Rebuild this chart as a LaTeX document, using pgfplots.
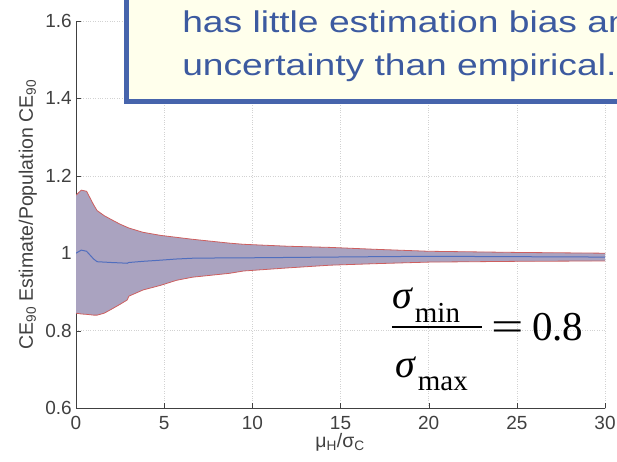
\documentclass[border=0pt]{standalone}
\usepackage{pgfplots}
\pgfplotsset{compat=1.18}
\usepackage{pgfplotstable}
\usepgfplotslibrary{fillbetween}
\usepackage{fontspec}
\setmainfont{Liberation Sans}
\newfontfamily\serif{Liberation Serif}
\definecolor{bandfill}{RGB}{170,163,192}
\definecolor{edgered}{RGB}{205,95,95}
\definecolor{medblue}{RGB}{80,110,190}
\definecolor{boxblue}{RGB}{70,100,172}
\definecolor{boxfill}{RGB}{255,255,236}
\definecolor{txtblue}{RGB}{60,90,160}
\definecolor{axgray}{RGB}{64,64,64}
\pgfplotstableread{
x lo med hi
0 0.845 1.000 1.150
0.3 0.843 1.008 1.163
0.6 0.842 1.005 1.160
1.0 0.840 0.985 1.125
1.2 0.840 0.978 1.110
1.6 0.845 0.977 1.097
2.0 0.855 0.976 1.087
2.5 0.868 0.975 1.075
2.9 0.879 0.974 1.067
3.0 0.889 0.976 1.065
3.8 0.905 0.979 1.054
4.8 0.917 0.982 1.046
5.7 0.930 0.985 1.041
6.6 0.938 0.987 1.036
8.7 0.948 0.988 1.026
9.5 0.954 0.988 1.023
12 0.962 0.989 1.018
14.4 0.969 0.990 1.015
17 0.973 0.991 1.010
20 0.977 0.992 1.005
25 0.979 0.991 1.002
30 0.980 0.990 1.000
}\band
\begin{document}
\begin{tikzpicture}
\begin{axis}[
  scale only axis, width=529pt, height=387pt,
  xmin=0, xmax=30, ymin=0.6, ymax=1.6,
  axis lines=left, axis line style={axgray, -},
  xtick={0,5,10,15,20,25,30},
  ytick={0.6,0.8,1,1.2,1.4,1.6},
  tick align=inside, major tick length=5pt, tick style={axgray},
  grid=major, major grid style={dotted, gray!35, line width=0.6pt},
  /pgf/number format/assume math mode=true,
  tick label style={font=\fontsize{19}{19}\selectfont, text=axgray},
  xticklabel style={inner sep=0pt, yshift=-8pt},
  yticklabel style={inner sep=0pt, xshift=-4pt},
  xlabel={μ\textsubscript{H}/σ\textsubscript{C}},
  ylabel={CE\textsubscript{90} Estimate/Population CE\textsubscript{90}},
  label style={font=\fontsize{19.5}{19.5}\selectfont, text=axgray, inner sep=0pt},
  xlabel style={at={(rel axis cs:0.499,-0.101)}, anchor=base},
  ylabel style={at={(rel axis cs:-0.0737,0.5)}, anchor=south},
]
\addplot[draw=none, name path=hi, forget plot] table[x=x,y=hi]{\band};
\addplot[draw=none, name path=lo, forget plot] table[x=x,y=lo]{\band};
\addplot[fill=bandfill, draw=none, forget plot] fill between[of=hi and lo];
\addplot[edgered, line width=0.8pt] table[x=x,y=hi]{\band};
\addplot[edgered, line width=0.8pt] table[x=x,y=lo]{\band};
\addplot[medblue, line width=1pt] table[x=x,y=med]{\band};
% formula sigma_min / sigma_max = 0.8
\node[anchor=base west, inner sep=0pt] at (axis cs:17.92,0.858)
  {\serif\fontsize{40}{40}\selectfont\itshape σ\upshape\hspace{3pt}\raisebox{-14pt}{\fontsize{29}{29}\selectfont min}};
\draw[line width=2pt, black] (axis cs:17.92,0.809) -- (axis cs:23.03,0.809);
\node[anchor=base west, inner sep=0pt] at (axis cs:18.09,0.680)
  {\serif\fontsize{40}{40}\selectfont\itshape σ\upshape\hspace{3pt}\raisebox{-13pt}{\fontsize{29}{29}\selectfont max}};
\node[anchor=base west, inner sep=0pt, xscale=1.4] at (axis cs:23.55,0.7755)
  {\serif\fontsize{41}{41}\selectfont =};
\node[anchor=base west, inner sep=0pt] at (axis cs:25.85,0.7755)
  {\serif\fontsize{41}{41}\selectfont 0.8};
\end{axis}
\draw[line width=5pt, draw=boxblue, fill=boxfill] (50pt,306.5pt) rectangle (620pt,460pt);
\node[anchor=base west, text=txtblue, inner sep=0pt, xscale=1.24, font=\fontsize{30}{30}\selectfont] at (106pt,375pt) {has little estimation bias and less};
\node[anchor=base west, text=txtblue, inner sep=0pt, xscale=1.24, font=\fontsize{30}{30}\selectfont] at (106pt,332pt) {uncertainty than empirical.};
\pgfresetboundingbox
\path[use as bounding box] (-76pt,-53pt) rectangle (541pt,408pt);
\end{tikzpicture}
\end{document}
